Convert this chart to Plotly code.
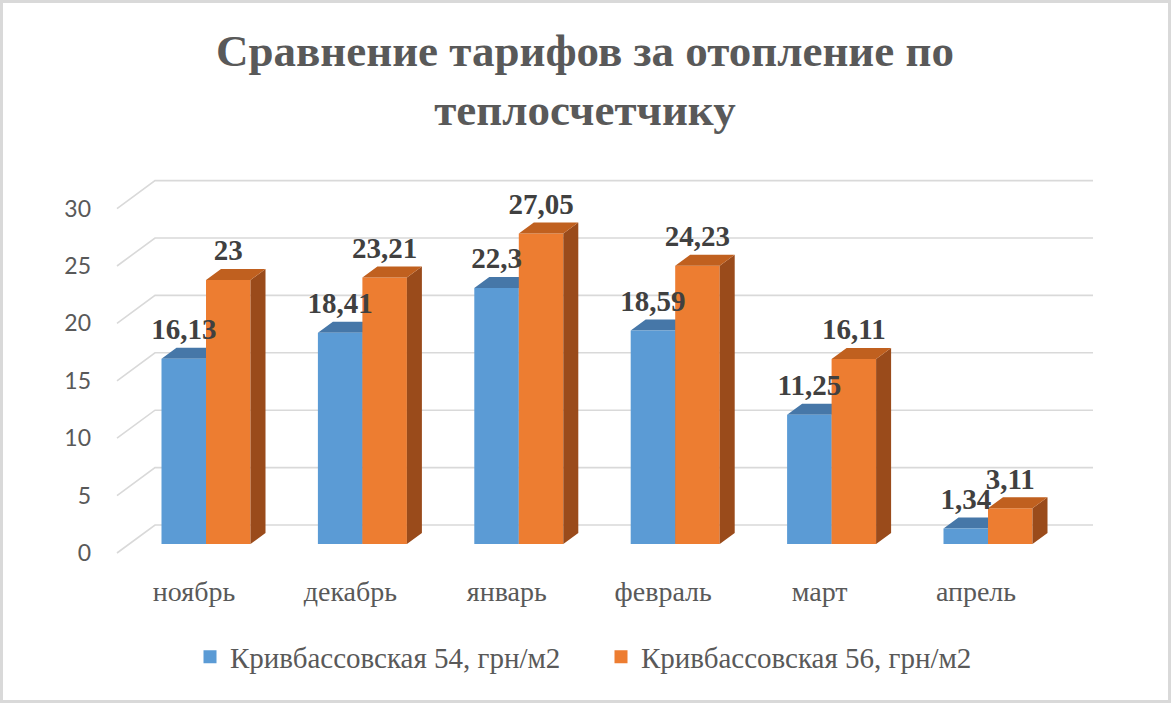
import plotly.graph_objects as go

# ---------------- data ----------------
months = ["ноябрь", "декабрь", "январь", "февраль", "март", "апрель"]
series_names = ["Кривбассовская 54, грн/м2", "Кривбассовская 56, грн/м2"]
values_54 = [16.13, 18.41, 22.3, 18.59, 11.25, 1.34]
values_56 = [23.0, 23.21, 27.05, 24.23, 16.11, 3.11]
y_ticks = [0, 5, 10, 15, 20, 25, 30]
title_text = "Сравнение тарифов за отопление по<br>теплосчетчику"

# ---------------- styling / layout parameters ----------------
W, H = 1172, 704
ML, MR, MT, MB = 100, 62, 160, 134
CAT_PX = 156.4          # px between categories
CAT0_PX = 206           # px of first category centre
BASE_PX = 544           # px of bar base (value 0)
V_PX = 11.48            # px per value unit

FRONT = {"54": "#5B9BD5", "56": "#ED7D31"}
TOP = {"54": "#4677A8", "56": "#C0601F"}
SIDE = {"54": "#3E6A96", "56": "#9A4B1B"}
GRID = "#D9D9D9"
TXT = "#595959"
LBL = "#404040"
SERIF = "Liberation Serif"

plot_w = W - ML - MR
plot_h = H - MT - MB
x_range = [(ML - CAT0_PX) / CAT_PX, (ML + plot_w - CAT0_PX) / CAT_PX]
y_range = [(BASE_PX - (MT + plot_h)) / V_PX, (BASE_PX - MT) / V_PX]

BW = 44.5 / CAT_PX       # bar face width
DX = 15 / CAT_PX         # bar depth (x)
DY = 11 / V_PX           # bar depth (y)
GRID_FRONT_X = (117 - CAT0_PX) / CAT_PX
GRID_BACK_X = (155 - CAT0_PX) / CAT_PX
GRID_RIGHT_X = (1093 - CAT0_PX) / CAT_PX
GRID_FRONT_DY = -9 / V_PX
GRID_BACK_DY = 19 / V_PX
LABEL_SHIFT = 12 / CAT_PX
DLABEL_DY = 27 / V_PX


def fmt(v):
    return f"{v:g}".replace(".", ",")


def px_x(p):
    return (p - ML) / plot_w


def px_y(p):
    return (MT + plot_h - p) / plot_h


fig = go.Figure()

# gridlines (perspective floor/back wall lines)
gx, gy = [], []
for t in y_ticks:
    gx += [GRID_FRONT_X, GRID_BACK_X, GRID_RIGHT_X, None]
    gy += [t + GRID_FRONT_DY, t + GRID_BACK_DY, t + GRID_BACK_DY, None]
fig.add_trace(go.Scatter(x=gx, y=gy, mode="lines", line=dict(color=GRID, width=1.6),
                         hoverinfo="skip", showlegend=False))


def faces(vals, x_left):
    front_x, front_y, top_x, top_y, side_x, side_y = [], [], [], [], [], []
    for i, v in enumerate(vals):
        xl = i + x_left
        xr = xl + BW
        front_x += [xl, xr, xr, xl, xl, None]
        front_y += [0, 0, v, v, 0, None]
        top_x += [xl, xr, xr + DX, xl + DX, xl, None]
        top_y += [v, v, v + DY, v + DY, v, None]
        side_x += [xr, xr + DX, xr + DX, xr, xr, None]
        side_y += [0, DY, v + DY, v, 0, None]
    return (front_x, front_y), (top_x, top_y), (side_x, side_y)


def poly(xy, color):
    return go.Scatter(x=xy[0], y=xy[1], mode="lines", fill="toself", fillcolor=color,
                      line=dict(width=0, color=color), hoverinfo="skip", showlegend=False)


f54, t54, s54 = faces(values_54, -BW)
f56, t56, s56 = faces(values_56, 0.0)
fig.add_trace(poly(s54, SIDE["54"]))
fig.add_trace(poly(t54, TOP["54"]))
fig.add_trace(poly(f54, FRONT["54"]))
fig.add_trace(poly(f56, FRONT["56"]))
fig.add_trace(poly(s56, SIDE["56"]))
fig.add_trace(poly(t56, TOP["56"]))

# data labels
fig.add_trace(go.Scatter(
    x=[i - BW / 2 for i in range(len(values_54))] + [i + BW / 2 for i in range(len(values_56))],
    y=[v + DLABEL_DY for v in values_54] + [v + DLABEL_DY for v in values_56],
    mode="text", text=[fmt(v) for v in values_54] + [fmt(v) for v in values_56],
    textfont=dict(family=SERIF, size=29, color=LBL, weight="bold"),
    textposition="middle center", hoverinfo="skip", showlegend=False))

# legend entries
for name, key in zip(series_names, ["54", "56"]):
    fig.add_trace(go.Scatter(x=[None], y=[None], mode="markers", name=name,
                             marker=dict(symbol="square", size=13, color=FRONT[key])))

fig.update_layout(
    width=W, height=H,
    margin=dict(l=ML, r=MR, t=MT, b=MB),
    paper_bgcolor="white", plot_bgcolor="white",
    font=dict(family=SERIF, color=TXT),
    xaxis=dict(range=x_range, showgrid=False, zeroline=False, showline=False,
               tickmode="array", tickvals=[i - LABEL_SHIFT for i in range(len(months))],
               ticktext=months, ticks="", ticklabelstandoff=2,
               tickfont=dict(family=SERIF, size=28, color=TXT), fixedrange=True),
    yaxis=dict(range=y_range, showgrid=False, zeroline=False, showline=False,
               tickmode="array", tickvals=[t + GRID_FRONT_DY for t in y_ticks],
               ticktext=[str(t) for t in y_ticks], ticks="", ticklabelstandoff=8,
               tickfont=dict(family="Lato", size=23, color=TXT),
               fixedrange=True),
    legend=dict(orientation="h", x=px_x(190), xanchor="left",
                y=px_y(657), yanchor="middle", entrywidth=366, entrywidthmode="pixels",
                font=dict(family=SERIF, size=29, color=TXT), itemclick=False,
                itemdoubleclick=False),
    annotations=[dict(text=title_text, xref="paper", yref="paper",
                      x=px_x(585), y=px_y(24), xanchor="center", yanchor="top",
                      showarrow=False, align="center",
                      font=dict(family=SERIF, size=45, color=TXT, weight="bold"))],
    shapes=[dict(type="rect", xref="paper", yref="paper",
                 x0=px_x(1.5), x1=px_x(W - 2.5),
                 y0=px_y(H - 2.5), y1=px_y(1.5),
                 line=dict(color=GRID, width=3), layer="below")],
)

fig.write_html("out.html", config={"displayModeBar": False},
               post_script="document.body.style.margin='0px';")
